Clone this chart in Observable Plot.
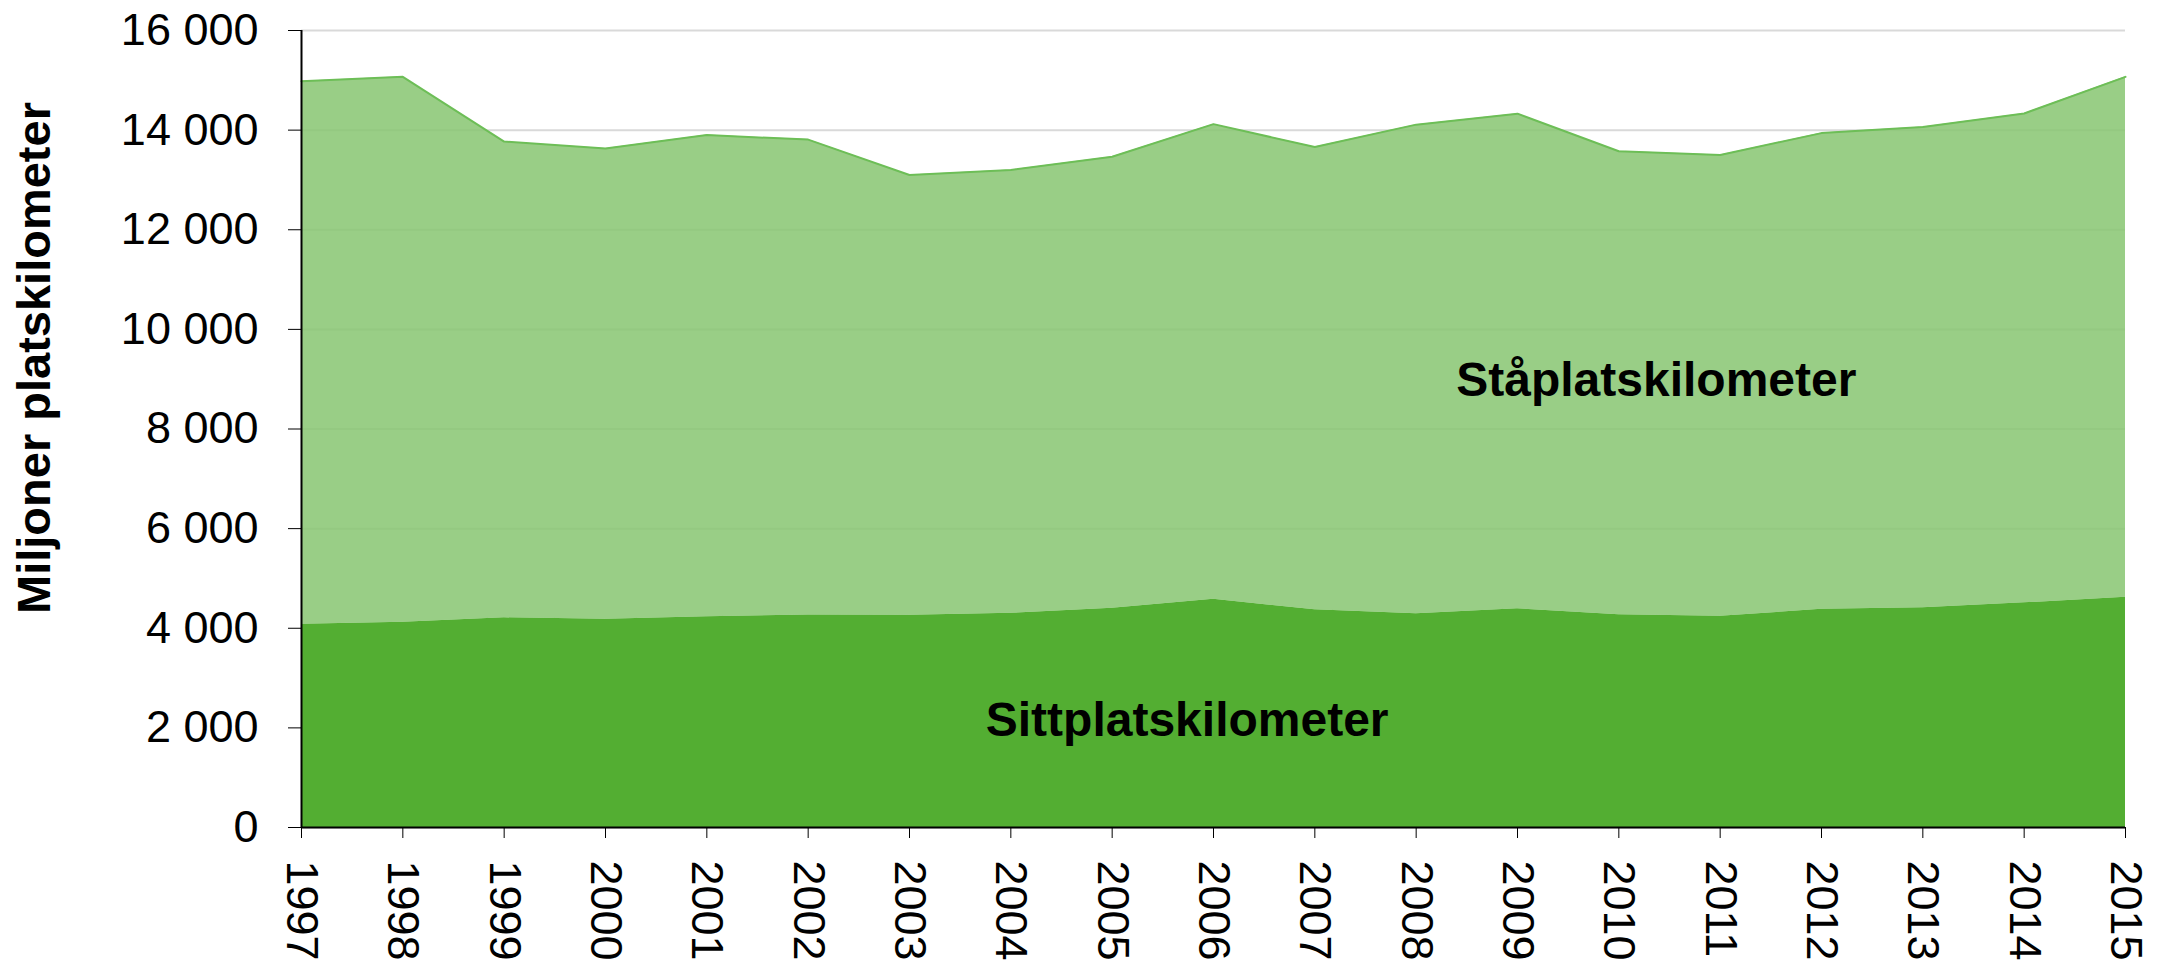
<!DOCTYPE html>
<html>
<head>
<meta charset="utf-8">
<script src="https://cdn.jsdelivr.net/npm/d3@7"></script>
<script src="https://cdn.jsdelivr.net/npm/@observablehq/plot@0.6"></script>
<style>
  html, body { margin: 0; padding: 0; background: #fff; }
  #chart { width: 2162px; height: 974px; }
  svg { font-family: "Liberation Sans", Arial, sans-serif; }
</style>
</head>
<body>
<div id="chart"></div>
<script>
const years = [1997, 1998, 1999, 2000, 2001, 2002, 2003, 2004, 2005, 2006, 2007, 2008, 2009, 2010, 2011, 2012, 2013, 2014, 2015];
const sittplatskilometer = [4080, 4120, 4210, 4180, 4230, 4265, 4260, 4300, 4400, 4580, 4370, 4290, 4390, 4270, 4240, 4380, 4410, 4510, 4620];
const staplatskilometer = [10900, 10950, 9560, 9450, 9670, 9545, 8840, 8900, 9065, 9540, 9290, 9820, 9940, 9305, 9260, 9560, 9655, 9825, 10450];
const yTicks = [0, 2000, 4000, 6000, 8000, 10000, 12000, 14000, 16000];
const labelPositions = [
  {name: "Ståplatskilometer", year: 2010.37, value: 8980},
  {name: "Sittplatskilometer", year: 2005.74, value: 2150}
];
const yTitle = "Miljoner platskilometer";

const rows = years.map((year, i) => ({
  year,
  sitt: sittplatskilometer[i],
  total: sittplatskilometer[i] + staplatskilometer[i]
}));

const fmt = d => d === 0 ? "0" : d3.format(",")(d).replace(/,/g, " ");

const chart = Plot.plot({
  width: 2162,
  height: 974,
  marginLeft: 301,
  marginRight: 37,
  marginTop: 30,
  marginBottom: 147,
  style: {background: "#fff", color: "#000", fontFamily: "'Liberation Sans', Arial, sans-serif"},
  x: {type: "linear", domain: [1997, 2015]},
  y: {domain: [0, 16000]},
  marks: [
    Plot.gridY(yTicks, {stroke: "#d9d9d9", strokeOpacity: 1, strokeWidth: 2}),
    Plot.areaY(rows, {x: "year", y1: "sitt", y2: "total", fill: "#87c671", fillOpacity: 0.85}),
    Plot.lineY(rows, {x: "year", y: "total", stroke: "#6dbe57", strokeWidth: 2}),
    Plot.areaY(rows, {x: "year", y1: 0, y2: "sitt", fill: "#53ae32"}),
    Plot.ruleX([1997], {stroke: "#000", strokeWidth: 2}),
    Plot.ruleY([0], {stroke: "#000", strokeWidth: 2}),
    Plot.axisY({ticks: yTicks, tickFormat: fmt, tickSize: 13, tickPadding: 30, fontSize: 45, label: null, stroke: "#000"}),
    Plot.axisX({ticks: years, tickFormat: d => String(d), tickRotate: 90, tickSize: 11, tickPadding: 22, fontSize: 45, label: null, stroke: "#000"}),
    Plot.text(labelPositions, {x: "year", y: "value", text: "name", fontSize: 48, fontWeight: "bold", fill: "#000", textAnchor: "middle"}),
    Plot.text([yTitle], {frameAnchor: "left", textAnchor: "middle", rotate: -90, dx: -267, dy: -71, fontSize: 47, fontWeight: "bold", fill: "#000"})
  ]
});
document.getElementById("chart").appendChild(chart);
</script>
</body>
</html>
